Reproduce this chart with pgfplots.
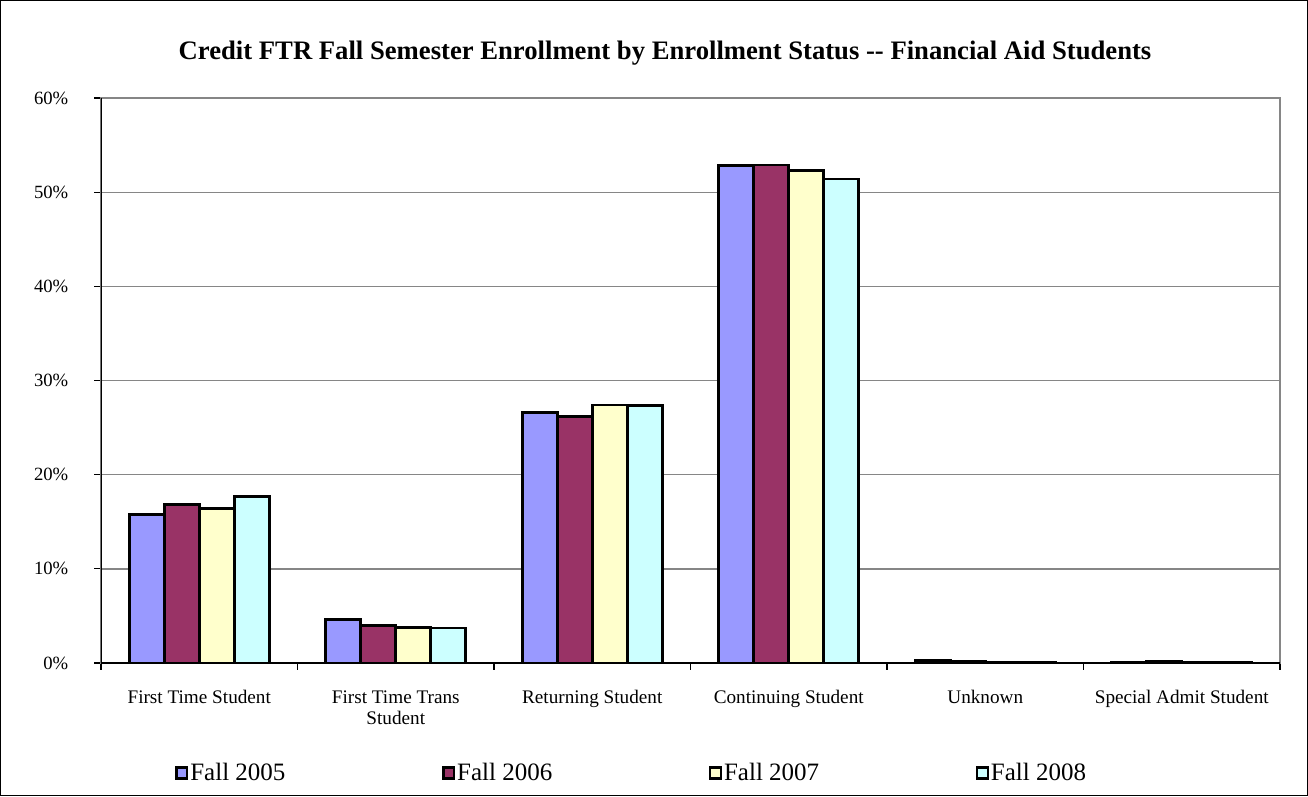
\documentclass[border=0pt]{standalone}
\usepackage{pgfplots}
\pgfplotsset{compat=1.18}
\usepackage{fontspec}
\setmainfont{Liberation Serif}

\definecolor{f05}{HTML}{9999FF}
\definecolor{f06}{HTML}{993366}
\definecolor{f07}{HTML}{FFFFCC}
\definecolor{f08}{HTML}{CCFFFF}
\definecolor{gridgray}{HTML}{868686}

% categories: 0 First Time, 1 First Time Trans, 2 Returning, 3 Continuing, 4 Unknown, 5 Special Admit
\pgfplotstableread{
x  y
0  15.8
1  4.6
2  26.6
3  52.8
4  0.3
5  0.05
}\fallA
\pgfplotstableread{
x  y
0  16.8
1  4.0
2  26.2
3  52.9
4  0.15
5  0.15
}\fallB
\pgfplotstableread{
x  y
0  16.4
1  3.8
2  27.4
3  52.3
4  0.1
5  0.1
}\fallC
\pgfplotstableread{
x  y
0  17.7
1  3.7
2  27.35
3  51.4
4  0.05
5  0.05
}\fallD

\begin{document}
\begin{tikzpicture}
\path[use as bounding box] (-75.75pt,-99.75pt) rectangle (905.25pt,497.25pt);
\begin{axis}[
    scale only axis,
    width=884.25pt, height=423.75pt,
    ybar=0pt, bar width=26.25pt,
    xmin=-0.5, xmax=5.5,
    ymin=0, ymax=60,
    xtick={0,...,5},
    xticklabels={First Time Student, First Time Trans\\Student, Returning Student, Continuing Student, Unknown, Special Admit Student},
    xticklabel style={align=center, font=\fontsize{14.4pt}{15.75pt}\selectfont},
    xticklabel shift=12pt,
    minor xtick={-0.5,0.5,...,5.5},
    xtick pos=bottom, ytick pos=left,
    ytick={0,10,...,60},
    yticklabel={\pgfmathprintnumber{\tick}\%},
    yticklabel style={font=\fontsize{14pt}{15pt}\selectfont},
    yticklabel shift=16pt,
    /pgf/number format/assume math mode=true,
    tick align=outside,
    major tick length=5pt, minor tick length=5pt,
    major x tick style={draw=none},
    minor x tick style={black, line width=0.8pt},
    major y tick style={black, line width=0.8pt},
    ymajorgrids,
    major grid style={gridgray, line width=1pt},
    axis line style={gridgray, line width=1pt},
    title={Credit FTR Fall Semester Enrollment by Enrollment Status {-}{-} Financial Aid Students},
    title style={font=\bfseries\fontsize{20pt}{22pt}\selectfont, at={(axis description cs:0.4784,1)}, anchor=base, yshift=23pt},
    legend columns=4,
    legend style={draw=none, inner sep=0pt, at={(0,0)}, anchor=west, xshift=55.5pt, yshift=-82.5pt,
        font=\fontsize{18.75pt}{20pt}\selectfont,
        nodes={inner sep=1.5pt},
        /tikz/every even column/.append style={column sep=116pt}},
    legend image code/.code={\draw[#1, draw=black, line width=1.8pt] (0.4pt,-4pt) rectangle (8.4pt,4pt);},
    every axis plot/.append style={draw=black, line width=2pt},
]
\addplot[fill=f05] table {\fallA};
\addplot[fill=f06] table {\fallB};
\addplot[fill=f07] table {\fallC};
\addplot[fill=f08] table {\fallD};
\legend{Fall 2005, Fall 2006, Fall 2007, Fall 2008}
\draw[black, line width=1.2pt] (rel axis cs:0,0) -- (rel axis cs:0,1);
\draw[black, line width=1.2pt] (rel axis cs:0,0) -- (rel axis cs:1,0);
\end{axis}
\draw[line width=0.75pt] (-75.375pt,-99.375pt) rectangle (904.875pt,496.875pt);
\end{tikzpicture}
\end{document}
